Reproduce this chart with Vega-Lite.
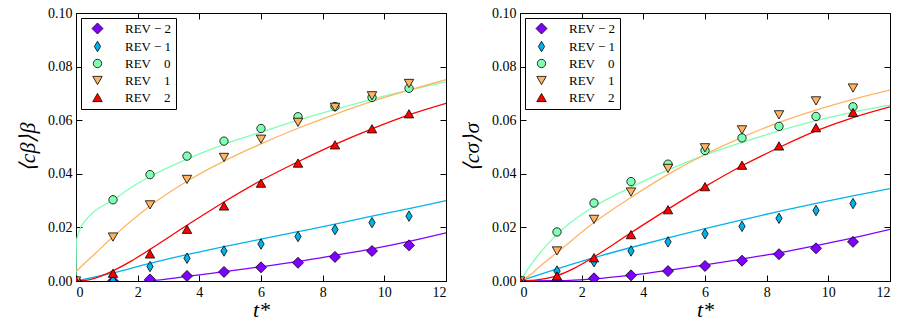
{
  "$schema": "https://vega.github.io/schema/vega-lite/v6.json",
  "background": "white",
  "padding": {"left": 16, "right": 6, "top": 5, "bottom": 2},
  "spacing": 74,
  "bounds": "flush",
  "config": {
    "font": "Liberation Serif",
    "view": {"stroke": "black", "strokeWidth": 1},
    "axis": {"grid": false, "domainColor": "black", "domainWidth": 1, "tickColor": "black", "tickSize": -6, "tickWidth": 1, "labelPadding": 10, "labelFont": "Liberation Serif", "labelFontSize": 14, "labelColor": "black", "titleFont": "Liberation Serif", "titleFontWeight": "normal", "titleColor": "black", "titleFontStyle": "italic", "titleFontSize": 22}
  },
  "datasets": {
    "pts": [
      {"p":"b","s":"REV − 2","t":0,"c":0},{"p":"b","s":"REV − 2","t":1.2,"c":0.0},{"p":"b","s":"REV − 2","t":2.4,"c":0.0006},{"p":"b","s":"REV − 2","t":3.6,"c":0.0019},{"p":"b","s":"REV − 2","t":4.8,"c":0.0034},{"p":"b","s":"REV − 2","t":6,"c":0.0051},{"p":"b","s":"REV − 2","t":7.2,"c":0.0068},{"p":"b","s":"REV − 2","t":8.4,"c":0.009},{"p":"b","s":"REV − 2","t":9.6,"c":0.0112},{"p":"b","s":"REV − 2","t":10.8,"c":0.0133},
      {"p":"b","s":"REV − 1","t":0,"c":0},{"p":"b","s":"REV − 1","t":1.2,"c":0.0002},{"p":"b","s":"REV − 1","t":2.4,"c":0.0054},{"p":"b","s":"REV − 1","t":3.6,"c":0.0085},{"p":"b","s":"REV − 1","t":4.8,"c":0.0112},{"p":"b","s":"REV − 1","t":6,"c":0.0138},{"p":"b","s":"REV − 1","t":7.2,"c":0.0166},{"p":"b","s":"REV − 1","t":8.4,"c":0.0192},{"p":"b","s":"REV − 1","t":9.6,"c":0.0218},{"p":"b","s":"REV − 1","t":10.8,"c":0.0242},
      {"p":"b","s":"REV 0","t":0,"c":0},{"p":"b","s":"REV 0","t":1.2,"c":0.0303},{"p":"b","s":"REV 0","t":2.4,"c":0.0397},{"p":"b","s":"REV 0","t":3.6,"c":0.0466},{"p":"b","s":"REV 0","t":4.8,"c":0.0522},{"p":"b","s":"REV 0","t":6,"c":0.0569},{"p":"b","s":"REV 0","t":7.2,"c":0.0613},{"p":"b","s":"REV 0","t":8.4,"c":0.0651},{"p":"b","s":"REV 0","t":9.6,"c":0.0685},{"p":"b","s":"REV 0","t":10.8,"c":0.0719},
      {"p":"b","s":"REV 1","t":0,"c":0},{"p":"b","s":"REV 1","t":1.2,"c":0.0164},{"p":"b","s":"REV 1","t":2.4,"c":0.0284},{"p":"b","s":"REV 1","t":3.6,"c":0.0379},{"p":"b","s":"REV 1","t":4.8,"c":0.0461},{"p":"b","s":"REV 1","t":6,"c":0.0529},{"p":"b","s":"REV 1","t":7.2,"c":0.0592},{"p":"b","s":"REV 1","t":8.4,"c":0.0648},{"p":"b","s":"REV 1","t":9.6,"c":0.0691},{"p":"b","s":"REV 1","t":10.8,"c":0.0737},
      {"p":"b","s":"REV 2","t":0,"c":0},{"p":"b","s":"REV 2","t":1.2,"c":0.0029},{"p":"b","s":"REV 2","t":2.4,"c":0.0101},{"p":"b","s":"REV 2","t":3.6,"c":0.0193},{"p":"b","s":"REV 2","t":4.8,"c":0.028},{"p":"b","s":"REV 2","t":6,"c":0.0365},{"p":"b","s":"REV 2","t":7.2,"c":0.044},{"p":"b","s":"REV 2","t":8.4,"c":0.0508},{"p":"b","s":"REV 2","t":9.6,"c":0.0568},{"p":"b","s":"REV 2","t":10.8,"c":0.0624},
      {"p":"s","s":"REV − 2","t":0,"c":0},{"p":"s","s":"REV − 2","t":1.2,"c":0.0},{"p":"s","s":"REV − 2","t":2.4,"c":0.001},{"p":"s","s":"REV − 2","t":3.6,"c":0.0021},{"p":"s","s":"REV − 2","t":4.8,"c":0.0037},{"p":"s","s":"REV − 2","t":6,"c":0.0056},{"p":"s","s":"REV − 2","t":7.2,"c":0.0076},{"p":"s","s":"REV − 2","t":8.4,"c":0.01},{"p":"s","s":"REV − 2","t":9.6,"c":0.0122},{"p":"s","s":"REV − 2","t":10.8,"c":0.0146},
      {"p":"s","s":"REV − 1","t":0,"c":0},{"p":"s","s":"REV − 1","t":1.2,"c":0.0037},{"p":"s","s":"REV − 1","t":2.4,"c":0.0072},{"p":"s","s":"REV − 1","t":3.6,"c":0.0112},{"p":"s","s":"REV − 1","t":4.8,"c":0.0146},{"p":"s","s":"REV − 1","t":6,"c":0.0176},{"p":"s","s":"REV − 1","t":7.2,"c":0.0204},{"p":"s","s":"REV − 1","t":8.4,"c":0.0234},{"p":"s","s":"REV − 1","t":9.6,"c":0.0263},{"p":"s","s":"REV − 1","t":10.8,"c":0.0289},
      {"p":"s","s":"REV 0","t":0,"c":0},{"p":"s","s":"REV 0","t":1.2,"c":0.0183},{"p":"s","s":"REV 0","t":2.4,"c":0.0291},{"p":"s","s":"REV 0","t":3.6,"c":0.0371},{"p":"s","s":"REV 0","t":4.8,"c":0.0436},{"p":"s","s":"REV 0","t":6,"c":0.0487},{"p":"s","s":"REV 0","t":7.2,"c":0.0534},{"p":"s","s":"REV 0","t":8.4,"c":0.0577},{"p":"s","s":"REV 0","t":9.6,"c":0.0614},{"p":"s","s":"REV 0","t":10.8,"c":0.065},
      {"p":"s","s":"REV 1","t":0,"c":0},{"p":"s","s":"REV 1","t":1.2,"c":0.0112},{"p":"s","s":"REV 1","t":2.4,"c":0.023},{"p":"s","s":"REV 1","t":3.6,"c":0.0332},{"p":"s","s":"REV 1","t":4.8,"c":0.042},{"p":"s","s":"REV 1","t":6,"c":0.0497},{"p":"s","s":"REV 1","t":7.2,"c":0.0564},{"p":"s","s":"REV 1","t":8.4,"c":0.062},{"p":"s","s":"REV 1","t":9.6,"c":0.0672},{"p":"s","s":"REV 1","t":10.8,"c":0.072},
      {"p":"s","s":"REV 2","t":0,"c":0},{"p":"s","s":"REV 2","t":1.2,"c":0.0019},{"p":"s","s":"REV 2","t":2.4,"c":0.0087},{"p":"s","s":"REV 2","t":3.6,"c":0.0173},{"p":"s","s":"REV 2","t":4.8,"c":0.0266},{"p":"s","s":"REV 2","t":6,"c":0.0352},{"p":"s","s":"REV 2","t":7.2,"c":0.0432},{"p":"s","s":"REV 2","t":8.4,"c":0.0504},{"p":"s","s":"REV 2","t":9.6,"c":0.0572},{"p":"s","s":"REV 2","t":10.8,"c":0.0629}
    ],
    "fit": [
      {"p":"b","s":"REV − 2","t":2.2,"c":0},{"p":"b","s":"REV − 2","t":2.4,"c":0.0001},{"p":"b","s":"REV − 2","t":3.6,"c":0.0017},{"p":"b","s":"REV − 2","t":4.8,"c":0.0035},{"p":"b","s":"REV − 2","t":6,"c":0.0053},{"p":"b","s":"REV − 2","t":7.2,"c":0.0073},{"p":"b","s":"REV − 2","t":8.4,"c":0.0096},{"p":"b","s":"REV − 2","t":9.6,"c":0.012},{"p":"b","s":"REV − 2","t":10.8,"c":0.0148},{"p":"b","s":"REV − 2","t":12,"c":0.018},
      {"p":"b","s":"REV − 1","t":0,"c":0},{"p":"b","s":"REV − 1","t":1.2,"c":0.003},{"p":"b","s":"REV − 1","t":2.4,"c":0.0066},{"p":"b","s":"REV − 1","t":3.6,"c":0.0098},{"p":"b","s":"REV − 1","t":4.8,"c":0.0128},{"p":"b","s":"REV − 1","t":6,"c":0.0156},{"p":"b","s":"REV − 1","t":7.2,"c":0.0184},{"p":"b","s":"REV − 1","t":8.4,"c":0.0212},{"p":"b","s":"REV − 1","t":9.6,"c":0.0242},{"p":"b","s":"REV − 1","t":10.8,"c":0.027},{"p":"b","s":"REV − 1","t":12,"c":0.03},
      {"p":"b","s":"REV 0","t":0,"c":0},{"p":"b","s":"REV 0","t":0.01,"c":0.0145},{"p":"b","s":"REV 0","t":0.1,"c":0.0185},{"p":"b","s":"REV 0","t":0.3,"c":0.0225},{"p":"b","s":"REV 0","t":0.6,"c":0.026},{"p":"b","s":"REV 0","t":1.2,"c":0.0302},{"p":"b","s":"REV 0","t":1.8,"c":0.035},{"p":"b","s":"REV 0","t":2.4,"c":0.039},{"p":"b","s":"REV 0","t":3.6,"c":0.0455},{"p":"b","s":"REV 0","t":4.8,"c":0.051},{"p":"b","s":"REV 0","t":6,"c":0.0555},{"p":"b","s":"REV 0","t":7.2,"c":0.06},{"p":"b","s":"REV 0","t":8.4,"c":0.064},{"p":"b","s":"REV 0","t":9.6,"c":0.0678},{"p":"b","s":"REV 0","t":10.8,"c":0.0712},{"p":"b","s":"REV 0","t":12,"c":0.0743},
      {"p":"b","s":"REV 1","t":0,"c":0.0035},{"p":"b","s":"REV 1","t":0.3,"c":0.0068},{"p":"b","s":"REV 1","t":0.6,"c":0.01},{"p":"b","s":"REV 1","t":1.2,"c":0.0165},{"p":"b","s":"REV 1","t":2.4,"c":0.028},{"p":"b","s":"REV 1","t":3.6,"c":0.0372},{"p":"b","s":"REV 1","t":4.8,"c":0.0447},{"p":"b","s":"REV 1","t":6,"c":0.0512},{"p":"b","s":"REV 1","t":7.2,"c":0.057},{"p":"b","s":"REV 1","t":8.4,"c":0.0622},{"p":"b","s":"REV 1","t":9.6,"c":0.067},{"p":"b","s":"REV 1","t":10.8,"c":0.0712},{"p":"b","s":"REV 1","t":12,"c":0.0751},
      {"p":"b","s":"REV 2","t":0,"c":0},{"p":"b","s":"REV 2","t":0.3,"c":0.0002},{"p":"b","s":"REV 2","t":0.6,"c":0.001},{"p":"b","s":"REV 2","t":1.2,"c":0.0038},{"p":"b","s":"REV 2","t":1.8,"c":0.0075},{"p":"b","s":"REV 2","t":2.4,"c":0.0118},{"p":"b","s":"REV 2","t":3.6,"c":0.0208},{"p":"b","s":"REV 2","t":4.8,"c":0.0295},{"p":"b","s":"REV 2","t":6,"c":0.0375},{"p":"b","s":"REV 2","t":7.2,"c":0.0445},{"p":"b","s":"REV 2","t":8.4,"c":0.051},{"p":"b","s":"REV 2","t":9.6,"c":0.0568},{"p":"b","s":"REV 2","t":10.8,"c":0.062},{"p":"b","s":"REV 2","t":12,"c":0.0663},
      {"p":"s","s":"REV − 2","t":0,"c":0},{"p":"s","s":"REV − 2","t":1.2,"c":0.0001},{"p":"s","s":"REV − 2","t":2.4,"c":0.0008},{"p":"s","s":"REV − 2","t":3.6,"c":0.0022},{"p":"s","s":"REV − 2","t":4.8,"c":0.004},{"p":"s","s":"REV − 2","t":6,"c":0.006},{"p":"s","s":"REV − 2","t":7.2,"c":0.0082},{"p":"s","s":"REV − 2","t":8.4,"c":0.0105},{"p":"s","s":"REV − 2","t":9.6,"c":0.0132},{"p":"s","s":"REV − 2","t":10.8,"c":0.0161},{"p":"s","s":"REV − 2","t":12,"c":0.0193},
      {"p":"s","s":"REV − 1","t":0,"c":0},{"p":"s","s":"REV − 1","t":0.6,"c":0.0023},{"p":"s","s":"REV − 1","t":1.2,"c":0.0045},{"p":"s","s":"REV − 1","t":2.4,"c":0.0087},{"p":"s","s":"REV − 1","t":3.6,"c":0.0125},{"p":"s","s":"REV − 1","t":4.8,"c":0.0161},{"p":"s","s":"REV − 1","t":6,"c":0.0195},{"p":"s","s":"REV − 1","t":7.2,"c":0.0228},{"p":"s","s":"REV − 1","t":8.4,"c":0.026},{"p":"s","s":"REV − 1","t":9.6,"c":0.029},{"p":"s","s":"REV − 1","t":10.8,"c":0.0318},{"p":"s","s":"REV − 1","t":12,"c":0.0345},
      {"p":"s","s":"REV 0","t":0,"c":0},{"p":"s","s":"REV 0","t":0.3,"c":0.0052},{"p":"s","s":"REV 0","t":0.6,"c":0.0098},{"p":"s","s":"REV 0","t":1.2,"c":0.0174},{"p":"s","s":"REV 0","t":1.8,"c":0.0232},{"p":"s","s":"REV 0","t":2.4,"c":0.0278},{"p":"s","s":"REV 0","t":3.6,"c":0.035},{"p":"s","s":"REV 0","t":4.8,"c":0.0415},{"p":"s","s":"REV 0","t":6,"c":0.047},{"p":"s","s":"REV 0","t":7.2,"c":0.0517},{"p":"s","s":"REV 0","t":8.4,"c":0.056},{"p":"s","s":"REV 0","t":9.6,"c":0.0598},{"p":"s","s":"REV 0","t":10.8,"c":0.063},{"p":"s","s":"REV 0","t":12,"c":0.0656},
      {"p":"s","s":"REV 1","t":0,"c":0},{"p":"s","s":"REV 1","t":0.3,"c":0.002},{"p":"s","s":"REV 1","t":0.6,"c":0.005},{"p":"s","s":"REV 1","t":1.2,"c":0.0106},{"p":"s","s":"REV 1","t":2.4,"c":0.0218},{"p":"s","s":"REV 1","t":3.6,"c":0.0312},{"p":"s","s":"REV 1","t":4.8,"c":0.0398},{"p":"s","s":"REV 1","t":6,"c":0.0472},{"p":"s","s":"REV 1","t":7.2,"c":0.0536},{"p":"s","s":"REV 1","t":8.4,"c":0.0592},{"p":"s","s":"REV 1","t":9.6,"c":0.0638},{"p":"s","s":"REV 1","t":10.8,"c":0.0678},{"p":"s","s":"REV 1","t":12,"c":0.0712},
      {"p":"s","s":"REV 2","t":0,"c":0},{"p":"s","s":"REV 2","t":0.6,"c":0.0005},{"p":"s","s":"REV 2","t":1.2,"c":0.002},{"p":"s","s":"REV 2","t":1.8,"c":0.005},{"p":"s","s":"REV 2","t":2.4,"c":0.009},{"p":"s","s":"REV 2","t":3.6,"c":0.018},{"p":"s","s":"REV 2","t":4.8,"c":0.0268},{"p":"s","s":"REV 2","t":6,"c":0.0352},{"p":"s","s":"REV 2","t":7.2,"c":0.043},{"p":"s","s":"REV 2","t":8.4,"c":0.0498},{"p":"s","s":"REV 2","t":9.6,"c":0.056},{"p":"s","s":"REV 2","t":10.8,"c":0.061},{"p":"s","s":"REV 2","t":12,"c":0.065}
    ]
  },
  "hconcat": [
    {
      "width": 370, "height": 268,
      "layer": [
        {
          "data": {"name": "fit"},
          "transform": [{"filter": "datum.p == 'b'"}],
          "mark": {"type": "line", "strokeWidth": 1.3, "interpolate": "monotone", "clip": true},
          "encoding": {
            "x": {"field": "t", "type": "quantitative", "scale": {"domain": [0, 12], "nice": false}, "axis": {"orient": "top", "labels": false, "title": null, "values": [0, 2, 4, 6, 8, 10, 12]}},
            "y": {"field": "c", "type": "quantitative", "scale": {"domain": [0, 0.1], "nice": false}, "axis": {"orient": "right", "labels": false, "title": null, "values": [0, 0.02, 0.04, 0.06, 0.08, 0.1]}},
            "stroke": {"field": "s", "type": "nominal", "scale": {"domain": ["REV 0", "REV 1", "REV 2", "REV − 1", "REV − 2"], "range": ["#80ffb4", "#ffb462", "#ff0000", "#00b4eb", "#8000ff"]}, "legend": null}
          }
        },
        {
          "data": {"name": "pts"},
          "transform": [{"filter": "datum.p == 'b'"}],
          "mark": {"type": "point", "filled": true, "opacity": 1, "stroke": "black", "strokeWidth": 0.8, "size": 121, "clip": true},
          "encoding": {
            "x": {"field": "t", "type": "quantitative", "axis": {"title": "t*", "values": [0, 2, 4, 6, 8, 10, 12], "titlePadding": 0}},
            "y": {"field": "c", "type": "quantitative", "axis": {"title": "⟨cβ⟩β", "format": ".2f", "values": [0, 0.02, 0.04, 0.06, 0.08, 0.1], "titlePadding": 8}},
            "color": {"field": "s", "type": "nominal", "scale": {"domain": ["REV − 2", "REV − 1", "REV 0", "REV 1", "REV 2"], "range": ["#8000ff", "#00b4eb", "#80ffb4", "#ffb462", "#ff0000"]},
              "legend": {"title": null, "orient": "top-left", "offset": 5, "padding": 4, "symbolOffset": 6, "labelOffset": 21, "rowPadding": 3, "strokeColor": "black", "fillColor": "white", "cornerRadius": 0, "labelFont": "Liberation Serif", "labelFontSize": 13, "labelColor": "black", "symbolSize": 121, "symbolStrokeColor": "black", "symbolStrokeWidth": 0.8,
                "labelExpr": "length(datum.label) < 6 ? replace(datum.label, ' ', '\u00a0\u00a0\u00a0\u00a0') : datum.label"}},
            "shape": {"field": "s", "type": "nominal", "scale": {"domain": ["REV − 2", "REV − 1", "REV 0", "REV 1", "REV 2"], "range": ["M-1,0L0,-1L1,0L0,1Z", "M0,-0.95L0.57,0L0,0.95L-0.57,0Z", "M0.76,0A0.76,0.76 0 1,0 -0.76,0A0.76,0.76 0 1,0 0.76,0Z", "M-0.86,-0.75L0.86,-0.75L0,0.75Z", "M-0.86,0.75L0.86,0.75L0,-0.75Z"]}}
          }
        }
      ],
      "resolve": {"axis": {"x": "independent", "y": "independent"}}
    },
    {
      "width": 370, "height": 268,
      "layer": [
        {
          "data": {"name": "fit"},
          "transform": [{"filter": "datum.p == 's'"}],
          "mark": {"type": "line", "strokeWidth": 1.3, "interpolate": "monotone", "clip": true},
          "encoding": {
            "x": {"field": "t", "type": "quantitative", "scale": {"domain": [0, 12], "nice": false}, "axis": {"orient": "top", "labels": false, "title": null, "values": [0, 2, 4, 6, 8, 10, 12]}},
            "y": {"field": "c", "type": "quantitative", "scale": {"domain": [0, 0.1], "nice": false}, "axis": {"orient": "right", "labels": false, "title": null, "values": [0, 0.02, 0.04, 0.06, 0.08, 0.1]}},
            "stroke": {"field": "s", "type": "nominal", "scale": {"domain": ["REV 0", "REV 1", "REV 2", "REV − 1", "REV − 2"], "range": ["#80ffb4", "#ffb462", "#ff0000", "#00b4eb", "#8000ff"]}, "legend": null}
          }
        },
        {
          "data": {"name": "pts"},
          "transform": [{"filter": "datum.p == 's'"}],
          "mark": {"type": "point", "filled": true, "opacity": 1, "stroke": "black", "strokeWidth": 0.8, "size": 121, "clip": true},
          "encoding": {
            "x": {"field": "t", "type": "quantitative", "axis": {"title": "t*", "values": [0, 2, 4, 6, 8, 10, 12], "titlePadding": 0}},
            "y": {"field": "c", "type": "quantitative", "axis": {"title": "⟨cσ⟩σ", "format": ".2f", "values": [0, 0.02, 0.04, 0.06, 0.08, 0.1], "titlePadding": 8}},
            "color": {"field": "s", "type": "nominal", "scale": {"domain": ["REV − 2", "REV − 1", "REV 0", "REV 1", "REV 2"], "range": ["#8000ff", "#00b4eb", "#80ffb4", "#ffb462", "#ff0000"]},
              "legend": {"title": null, "orient": "top-left", "offset": 5, "padding": 4, "symbolOffset": 6, "labelOffset": 21, "rowPadding": 3, "strokeColor": "black", "fillColor": "white", "cornerRadius": 0, "labelFont": "Liberation Serif", "labelFontSize": 13, "labelColor": "black", "symbolSize": 121, "symbolStrokeColor": "black", "symbolStrokeWidth": 0.8,
                "labelExpr": "length(datum.label) < 6 ? replace(datum.label, ' ', '\u00a0\u00a0\u00a0\u00a0') : datum.label"}},
            "shape": {"field": "s", "type": "nominal", "scale": {"domain": ["REV − 2", "REV − 1", "REV 0", "REV 1", "REV 2"], "range": ["M-1,0L0,-1L1,0L0,1Z", "M0,-0.95L0.57,0L0,0.95L-0.57,0Z", "M0.76,0A0.76,0.76 0 1,0 -0.76,0A0.76,0.76 0 1,0 0.76,0Z", "M-0.86,-0.75L0.86,-0.75L0,0.75Z", "M-0.86,0.75L0.86,0.75L0,-0.75Z"]}}
          }
        }
      ],
      "resolve": {"axis": {"x": "independent", "y": "independent"}}
    }
  ],
  "resolve": {"scale": {"color": "independent", "shape": "independent", "stroke": "independent"}, "legend": {"color": "independent", "shape": "independent"}}
}
